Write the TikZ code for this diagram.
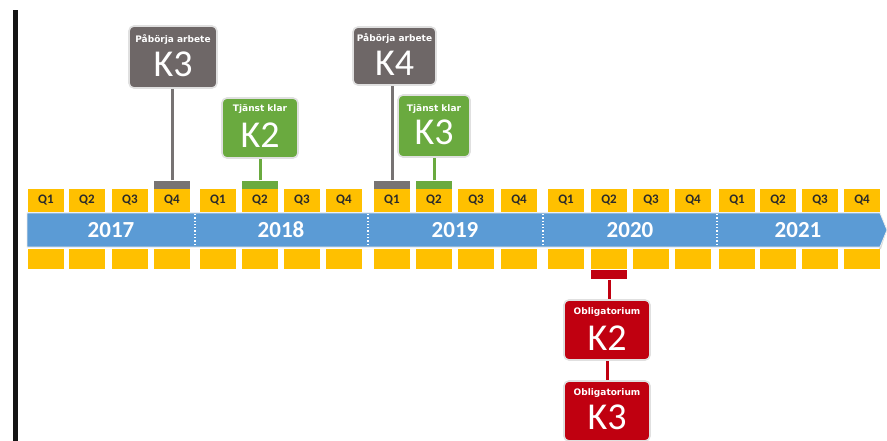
\documentclass[tikz,border=0pt]{standalone}
\usepackage{fontspec}
\setmainfont{DejaVu Sans}
\newfontfamily\carlito{Carlito}
\usetikzlibrary{backgrounds}
\definecolor{qyellow}{HTML}{FFC000}
\definecolor{bandblue}{HTML}{5B9BD5}
\definecolor{boxgray}{HTML}{6E6767}
\definecolor{stemgray}{HTML}{777373}
\definecolor{boxgreen}{HTML}{6AAA3F}
\definecolor{boxred}{HTML}{C00010}
\definecolor{qtext}{HTML}{2A2A2A}
\begin{document}
\begin{tikzpicture}[x=1pt,y=-1pt,
  qtop/.style={fill=qyellow,inner sep=0pt,minimum width=36pt,minimum height=23pt,
    font=\carlito\bfseries\fontsize{13}{13}\selectfont,text=qtext},
  qbot/.style={fill=qyellow,inner sep=0pt,minimum width=36pt,minimum height=20pt},
  yeartxt/.style={text=white,font=\carlito\bfseries\fontsize{23}{23}\selectfont,inner sep=0pt},
  capbar/.style={inner sep=0pt,minimum width=36pt,minimum height=8pt},
  callout/.style={rounded corners=5pt,draw=black!12,line width=1.6pt,inner sep=0pt},
  smalltxt/.style={text=white,font=\bfseries\fontsize{9}{9}\selectfont,inner sep=0pt},
  bigtxt/.style={text=white,font=\carlito\fontsize{38}{38}\selectfont,inner sep=0pt},
  stem/.style={line width=3pt}]
\clip (0,0) rectangle (887,441);
\begin{pgfonlayer}{background}
\fill[white] (0,0) rectangle (887,441);
\end{pgfonlayer}
% left black bar
\fill[black!92] (13,10) rectangle (18,441);
% blue band
\fill[black!15] (28,249) -- (879,249) -- (886,232) -- (881,249) -- cycle;
\filldraw[fill=bandblue,draw=white!85!gray,line width=0.8pt]
  (27,213) -- (880,213) -- (887,230) -- (880,247) -- (27,247) -- cycle;
\foreach \bx in {195,368,543,717}
  \draw[white,line width=1.3pt,dotted] (\bx,214) -- (\bx,246);
\node[yeartxt] (y2017) at (111,230) {2017};
\node[yeartxt] (y2018) at (281,230) {2018};
\node[yeartxt] (y2019) at (455,230) {2019};
\node[yeartxt] (y2020) at (630,230) {2020};
\node[yeartxt] (y2021) at (798,230) {2021};
% quarter boxes
\foreach \x [count=\i] in {28,69,112,154,200,242,284,326,374,416,458,501,548,591,633,675,719,760,802,844} {
  \pgfmathtruncatemacro\qn{mod(\i-1,4)+1}
  \node[qtop] (qt\i) at (\x+18,200.5) {Q\qn};
  \node[qbot] (qb\i) at (\x+18,259) {};
}
% caps
\node[capbar,fill=stemgray,anchor=south] (capA) at (qt4.north) {};
\node[capbar,fill=boxgreen,anchor=south] (capB) at (qt6.north) {};
\node[capbar,fill=stemgray,anchor=south] (capC) at (qt9.north) {};
\node[capbar,fill=boxgreen,anchor=south] (capD) at (qt10.north) {};
\node[capbar,fill=boxred,anchor=north,minimum height=9pt] (capE) at ([yshift=-1pt]qb14.south) {};
% callout boxes
\node[callout,fill=boxgray,minimum width=88pt,minimum height=62pt] (pk3) at (173,57) {};
\node[smalltxt] (pk3a) at (173,39) {Påbörja arbete};
\node[bigtxt] (pk3b) at (173,64) {K3};
\node[callout,fill=boxgray,minimum width=83pt,minimum height=58pt] (pk4) at (394.5,56) {};
\node[smalltxt] (pk4a) at (394.5,38.5) {Påbörja arbete};
\node[bigtxt] (pk4b) at (394.5,63) {K4};
\node[callout,fill=boxgreen,minimum width=76pt,minimum height=60pt] (tk2) at (260,128) {};
\node[smalltxt] (tk2a) at (260,109) {Tjänst klar};
\node[bigtxt] (tk2b) at (260,135) {K2};
\node[callout,fill=boxgreen,minimum width=72pt,minimum height=62pt] (tk3) at (434,126) {};
\node[smalltxt] (tk3a) at (434,109) {Tjänst klar};
\node[bigtxt] (tk3b) at (434,132) {K3};
\node[callout,fill=boxred,minimum width=86pt,minimum height=60pt] (ok2) at (607,330) {};
\node[smalltxt] (ok2a) at (607,312) {Obligatorium};
\node[bigtxt] (ok2b) at (607,338) {K2};
\node[callout,fill=boxred,minimum width=86pt,minimum height=60pt] (ok3) at (607,411) {};
\node[smalltxt] (ok3a) at (607,393) {Obligatorium};
\node[bigtxt] (ok3b) at (607,417.5) {K3};
% stems
\begin{pgfonlayer}{background}
\draw[stem,stemgray] (capA.north) -- (capA.north |- pk3.south);
\draw[stem,boxgreen] (capB.north) -- (capB.north |- tk2.south);
\draw[stem,stemgray] (capC.north) -- (capC.north |- pk4.south);
\draw[stem,boxgreen] (capD.north) -- (capD.north |- tk3.south);
\draw[stem,boxred] (capE.south) -- (capE.south |- ok2.north);
\draw[stem,boxred] (ok2.south) -- (ok3.north);
\end{pgfonlayer}
\end{tikzpicture}
\end{document}
